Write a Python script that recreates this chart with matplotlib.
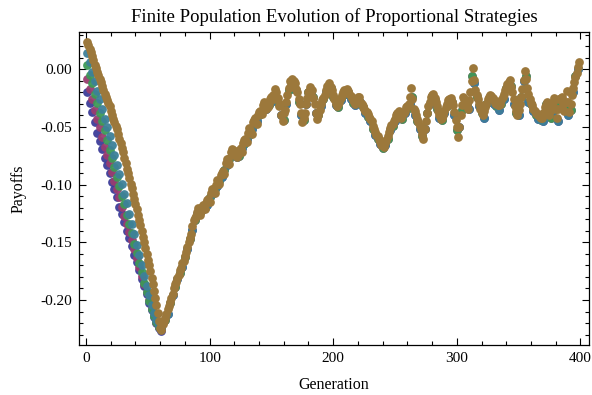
import numpy as np
import matplotlib.pyplot as plt
from matplotlib.ticker import MultipleLocator, FormatStrFormatter

# data
# top (brown) population: every generation 1..60
gen_top_early = np.arange(1, 61)
payoff_top_early = [
    0.024, 0.021, 0.018, 0.015, 0.012, 0.008, 0.004, 0.001, -0.002, -0.005,
    -0.008, -0.011, -0.014, -0.018, -0.021, -0.024, -0.027, -0.029, -0.032, -0.036,
    -0.040, -0.043, -0.046, -0.049, -0.052, -0.056, -0.060, -0.064, -0.068, -0.072,
    -0.077, -0.081, -0.086, -0.090, -0.094, -0.099, -0.103, -0.108, -0.112, -0.117,
    -0.121, -0.126, -0.131, -0.135, -0.140, -0.145, -0.150, -0.155, -0.160, -0.165,
    -0.170, -0.175, -0.181, -0.186, -0.192, -0.198, -0.204, -0.211, -0.218, -0.224,
]
# odd generations 61..399
gen_top_odd = np.arange(61, 400, 2)
payoff_top_odd = [
    -0.226, -0.218, -0.212, -0.205, -0.198, -0.190, -0.184, -0.178, -0.172, -0.166,
    -0.158, -0.150, -0.143, -0.131, -0.127, -0.120, -0.123, -0.118, -0.116, -0.112,
    -0.107, -0.104, -0.100, -0.097, -0.092, -0.088, -0.081, -0.078, -0.072, -0.070,
    -0.072, -0.074, -0.068, -0.064, -0.060, -0.055, -0.053, -0.046, -0.042, -0.040,
    -0.036, -0.031, -0.029, -0.033, -0.026, -0.022, -0.017, -0.025, -0.030, -0.045,
    -0.035, -0.022, -0.010, -0.008, -0.012, -0.020, -0.030, -0.046, -0.038, -0.025,
    -0.015, -0.018, -0.030, -0.043, -0.035, -0.027, -0.022, -0.014, -0.012, -0.018,
    -0.026, -0.032, -0.028, -0.022, -0.018, -0.017, -0.021, -0.025, -0.028, -0.026,
    -0.024, -0.030, -0.034, -0.037, -0.041, -0.045, -0.052, -0.057, -0.060, -0.066,
    -0.067, -0.061, -0.054, -0.048, -0.045, -0.040, -0.036, -0.042, -0.038, -0.033,
    -0.030, -0.016, -0.034, -0.040, -0.046, -0.052, -0.060, -0.045, -0.032, -0.024,
    -0.021, -0.028, -0.036, -0.043, -0.040, -0.033, -0.027, -0.025, -0.031, -0.044,
    -0.059, -0.040, -0.024, -0.028, -0.034, -0.020, 0.001, -0.018, -0.026, -0.034,
    -0.040, -0.033, -0.026, -0.022, -0.025, -0.029, -0.031, -0.030, -0.024, -0.018,
    -0.013, -0.009, -0.020, -0.032, -0.040, -0.030, -0.017, -0.001, -0.016, -0.026,
    -0.031, -0.036, -0.039, -0.041, -0.042, -0.033, -0.028, -0.040, -0.030, -0.025,
    -0.042, -0.026, -0.024, -0.036, -0.019, -0.037, -0.022, -0.011, -0.003, 0.006,
]
# even generations 62..398
gen_top_even = np.arange(62, 399, 2)
payoff_top_even = [
    -0.221, -0.216, -0.208, -0.202, -0.195, -0.186, -0.181, -0.174, -0.168, -0.162,
    -0.154, -0.146, -0.136, -0.129, -0.124, -0.126, -0.119, -0.121, -0.113, -0.115,
    -0.104, -0.107, -0.096, -0.099, -0.090, -0.091, -0.078, -0.082, -0.069, -0.074,
    -0.076, -0.070, -0.072, -0.061, -0.063, -0.051, -0.056, -0.044, -0.047, -0.037,
    -0.039, -0.028, -0.034, -0.030, -0.024, -0.026, -0.020, -0.032, -0.040, -0.038,
    -0.028, -0.016, -0.014, -0.010, -0.017, -0.026, -0.038, -0.042, -0.030, -0.020,
    -0.022, -0.025, -0.038, -0.040, -0.030, -0.025, -0.018, -0.016, -0.015, -0.022,
    -0.030, -0.030, -0.025, -0.020, -0.020, -0.019, -0.023, -0.027, -0.030, -0.024,
    -0.028, -0.032, -0.036, -0.039, -0.043, -0.049, -0.054, -0.058, -0.063, -0.064,
    -0.064, -0.058, -0.051, -0.047, -0.043, -0.038, -0.040, -0.040, -0.036, -0.032,
    -0.024, -0.026, -0.036, -0.043, -0.049, -0.056, -0.052, -0.038, -0.028, -0.022,
    -0.025, -0.032, -0.040, -0.042, -0.036, -0.030, -0.026, -0.028, -0.037, -0.050,
    -0.050, -0.031, -0.026, -0.031, -0.027, -0.010, -0.009, -0.022, -0.030, -0.037,
    -0.036, -0.030, -0.024, -0.023, -0.027, -0.030, -0.031, -0.027, -0.021, -0.016,
    -0.011, -0.015, -0.026, -0.036, -0.035, -0.024, -0.009, -0.008, -0.021, -0.029,
    -0.034, -0.038, -0.040, -0.042, -0.038, -0.031, -0.034, -0.035, -0.028, -0.034,
    -0.034, -0.025, -0.030, -0.028, -0.028, -0.030, -0.016, -0.007, 0.002,
]

# other populations during the early decline, generations 1, 3, ..., 61
gen_early = np.arange(1, 62, 2)
early_blue = [-0.020, -0.029, -0.037, -0.046, -0.055, -0.062, -0.069, -0.077, -0.083, -0.090, -0.098,
              -0.104, -0.111, -0.119, -0.125, -0.132, -0.140, -0.146, -0.153, -0.161, -0.167,
              -0.174, -0.182, -0.188, -0.195, -0.203, -0.209, -0.215, -0.220, -0.224, -0.227]
early_purple = [-0.008, -0.017, -0.026, -0.035, -0.043, -0.050, -0.059, -0.067, -0.074, -0.081, -0.089,
                -0.097, -0.104, -0.111, -0.119, -0.127, -0.134, -0.141, -0.148, -0.156, -0.164,
                -0.171, -0.179, -0.186, -0.193, -0.200, -0.207, -0.213, -0.219, -0.223, -0.225]
early_green = [0.004, -0.005, -0.012, -0.021, -0.029, -0.038, -0.045, -0.053, -0.061, -0.070, -0.077,
               -0.085, -0.093, -0.101, -0.110, -0.117, -0.126, -0.134, -0.142, -0.151, -0.159,
               -0.168, -0.176, -0.185, -0.193, -0.201, -0.208, -0.214, -0.219, -0.223, -0.224]
early_teal = [0.014, 0.006, -0.002, -0.010, -0.019, -0.026, -0.034, -0.043, -0.050, -0.058, -0.066,
              -0.074, -0.083, -0.091, -0.099, -0.108, -0.116, -0.125, -0.134, -0.143, -0.152,
              -0.161, -0.170, -0.179, -0.188, -0.196, -0.204, -0.211, -0.217, -0.222, -0.224]

# later generations of the other populations (mostly hidden under the top one)
gen_tail_a = np.arange(66, 399, 4)
tail_a = [
    -0.212, -0.196, -0.182, -0.171, -0.156, -0.139, -0.125, -0.122, -0.118, -0.108,
    -0.101, -0.093, -0.083, -0.074, -0.076, -0.068, -0.060, -0.052, -0.045, -0.036,
    -0.034, -0.028, -0.024, -0.040, -0.030, -0.014, -0.018, -0.040, -0.030, -0.020,
    -0.038, -0.032, -0.020, -0.016, -0.031, -0.027, -0.021, -0.026, -0.031, -0.028,
    -0.038, -0.045, -0.057, -0.065, -0.066, -0.053, -0.045, -0.042, -0.038, -0.030,
    -0.040, -0.052, -0.052, -0.030, -0.027, -0.042, -0.038, -0.030, -0.040, -0.050,
    -0.030, -0.034, -0.012, -0.032, -0.042, -0.028, -0.030, -0.035, -0.026, -0.016,
    -0.030, -0.040, -0.010, -0.028, -0.036, -0.043, -0.045, -0.034, -0.036, -0.045,
    -0.030, -0.040, -0.020, 0.000,
]
gen_tail_b = np.arange(64, 397, 4)
tail_b = [
    -0.217, -0.203, -0.189, -0.177, -0.163, -0.147, -0.131, -0.124, -0.120, -0.111,
    -0.104, -0.097, -0.087, -0.078, -0.073, -0.075, -0.065, -0.057, -0.047, -0.040,
    -0.032, -0.031, -0.023, -0.030, -0.044, -0.018, -0.012, -0.028, -0.044, -0.020,
    -0.024, -0.040, -0.026, -0.016, -0.024, -0.033, -0.022, -0.020, -0.029, -0.027,
    -0.033, -0.041, -0.052, -0.060, -0.068, -0.060, -0.049, -0.039, -0.043, -0.034,
    -0.024, -0.045, -0.058, -0.038, -0.023, -0.034, -0.044, -0.032, -0.028, -0.053,
    -0.035, -0.031, -0.006, -0.024, -0.038, -0.030, -0.024, -0.032, -0.030, -0.016,
    -0.014, -0.038, -0.024, -0.006, -0.030, -0.040, -0.044, -0.030, -0.042, -0.028,
    -0.026, -0.033, -0.035, -0.006,
]

plt.rcParams['font.family'] = ['Liberation Serif', 'DejaVu Serif']

fig = plt.figure(figsize=(5.92, 3.95), dpi=100)
ax = fig.add_axes([0.1334, 0.1266, 0.8616, 0.7924])

series = [
    (early_blue, gen_tail_a, tail_a, (0.24, 0.24, 0.6)),
    (early_purple, gen_tail_b, tail_b, (0.6, 0.24, 0.44)),
    (early_green, gen_tail_b, tail_b, (0.24, 0.6, 0.34)),
    (early_teal, gen_tail_a, tail_a, (0.24, 0.5, 0.6)),
]
for early, gt, tail, col in series:
    x = np.concatenate([gen_early, gt])
    y = np.concatenate([early, tail])
    ax.plot(x, y, 'o', ms=6.3, color=col, mec='none', alpha=0.95)

brown = (0.61, 0.47, 0.23)
ax.plot(gen_top_early, payoff_top_early, 'o', ms=6.3, color=brown, mec='none')
ax.plot(gen_top_even, payoff_top_even, 'o', ms=6.3, color=brown, mec='none')
ax.plot(gen_top_odd, payoff_top_odd, 'o', ms=6.3, color=brown, mec='none')

ax.set_xlim(-5.7, 407)
ax.set_ylim(-0.239, 0.0324)
ax.xaxis.set_major_locator(MultipleLocator(100))
ax.xaxis.set_minor_locator(MultipleLocator(20))
ax.yaxis.set_major_locator(MultipleLocator(0.05))
ax.yaxis.set_minor_locator(MultipleLocator(0.01))
ax.yaxis.set_major_formatter(FormatStrFormatter('%.2f'))
ax.tick_params(which='both', direction='in', top=True, right=True, labelsize=11, width=0.8)
ax.tick_params(which='major', length=5, pad=5)
ax.tick_params(which='minor', length=3)
for s in ax.spines.values():
    s.set_linewidth(0.9)

ax.set_title('Finite Population Evolution of Proportional Strategies', fontsize=13.5, pad=7)
ax.set_xlabel('Generation', fontsize=11.5, labelpad=9)
ax.set_ylabel('Payoffs', fontsize=11.5, labelpad=10)

plt.savefig('out.png', dpi=100)
